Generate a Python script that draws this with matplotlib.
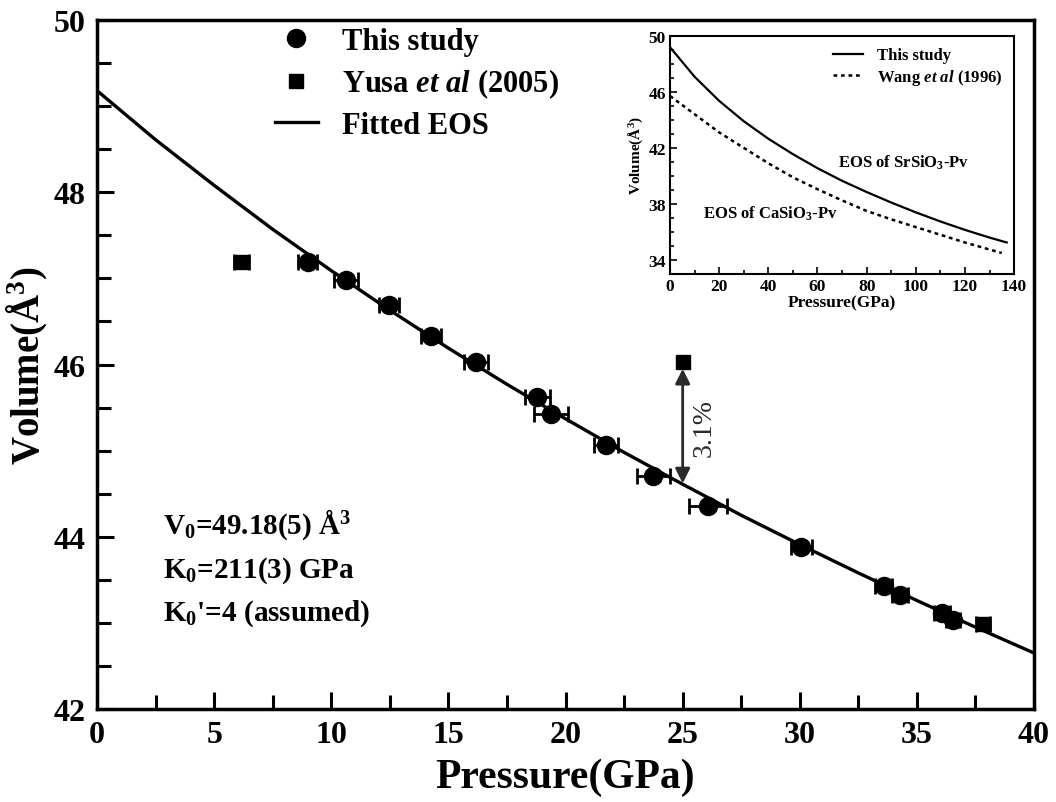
import matplotlib
matplotlib.use('Agg')
import matplotlib.pyplot as plt
from matplotlib.lines import Line2D
from matplotlib.ticker import MultipleLocator

plt.rcParams['font.family'] = 'Liberation Serif'
plt.rcParams['font.weight'] = 'bold'
plt.rcParams['axes.labelweight'] = 'bold'
plt.rcParams['mathtext.fontset'] = 'custom'
plt.rcParams['mathtext.rm'] = 'Liberation Serif:bold'
plt.rcParams['mathtext.it'] = 'Liberation Serif:italic:bold'
plt.rcParams['mathtext.bf'] = 'Liberation Serif:bold'

# this study (circles), x errors in GPa
p_this = [9.0, 10.63, 12.47, 14.26, 16.18, 18.79, 19.38, 21.73, 23.74, 26.09,
          30.06, 33.58, 34.29, 36.06, 36.55]
v_this = [47.19, 46.98, 46.69, 46.33, 46.03, 45.62, 45.43, 45.07, 44.71, 44.36,
          43.88, 43.43, 43.32, 43.12, 43.03]
perr_this = [0.4, 0.5, 0.43, 0.43, 0.5, 0.53, 0.72, 0.53, 0.7, 0.8,
             0.45, 0.37, 0.35, 0.35, 0.3]

# square points with error bars
p_sq = [6.15, 37.83]
v_sq = [47.19, 42.99]
perr_sq = [0.32, 0.3]

# Yusa et al (2005)
p_yusa = [25.0]
v_yusa = [46.03]

# fitted EOS curve
p_fit = [0, 2.5, 5, 7.5, 10, 12.5, 15, 17.5, 20, 22.5, 25, 27.5, 30, 32.5, 35, 37.5, 40]
v_fit = [49.18, 48.61, 48.08, 47.57, 47.09, 46.63, 46.19, 45.77, 45.37, 44.98,
         44.61, 44.25, 43.91, 43.58, 43.26, 42.95, 42.65]

# inset curves
p_sr = [0, 10, 20, 30, 40, 50, 60, 70, 80, 90, 100, 110, 120, 130, 137]
v_sr = [49.18, 47.07, 45.35, 43.9, 42.65, 41.55, 40.55, 39.65, 38.85, 38.1,
        37.4, 36.75, 36.15, 35.6, 35.25]
p_ca = [0, 10, 20, 30, 40, 50, 60, 70, 80, 90, 100, 110, 120, 130, 135]
v_ca = [45.7, 44.4, 43.1, 42.0, 40.9, 39.9, 39.05, 38.25, 37.5, 36.9,
        36.35, 35.8, 35.25, 34.75, 34.5]

fig = plt.figure(figsize=(10.56, 8.03), dpi=100)
ax = fig.add_axes([0.0919, 0.1158, 0.8873, 0.8580])

ax.plot(p_fit, v_fit, color='black', lw=2.4, zorder=2)
ax.errorbar(p_this, v_this, xerr=perr_this, fmt='o', color='black', ms=13,
            capsize=6, elinewidth=2, capthick=2, zorder=3)
ax.errorbar(p_sq, v_sq, xerr=perr_sq, fmt='s', color='black', ms=10,
            capsize=6, elinewidth=2, capthick=2, zorder=3)
ax.plot(p_yusa, v_yusa, 's', color='black', ms=10, zorder=3)

ax.annotate('', xy=(25.0, 45.95), xytext=(25.0, 44.62),
            arrowprops=dict(arrowstyle='<|-|>', color='#2a2a2a', lw=2,
                            mutation_scale=22, shrinkA=0, shrinkB=0))
ax.text(25.9, 45.28, '3.1%', rotation=90, ha='center', va='center',
        fontsize=20, fontweight='normal', color='#2a2a2a')

ax.text(2.8, 44.15, r'V$_0$=49.18(5) Å$^3$', fontsize=21, va='center')
ax.text(2.8, 43.62, r'K$_0$=211(3) GPa', fontsize=21, va='center')
ax.text(2.8, 43.12, r"K$_0$'=4 (assumed)", fontsize=21, va='center')

handles = [Line2D([], [], marker='o', ls='none', color='black', ms=13),
           Line2D([], [], marker='s', ls='none', color='black', ms=10),
           Line2D([], [], color='black', lw=2.4)]
labels = ['This study', r'Yusa $et\ al$ (2005)', 'Fitted EOS']
ax.legend(handles, labels, loc='upper left', bbox_to_anchor=(0.19, 0.99),
          frameon=False, fontsize=22, handlelength=1.4, handletextpad=0.8,
          labelspacing=0.35, borderpad=0, borderaxespad=0)

ax.set_xlim(0, 40)
ax.set_ylim(42, 50)
ax.xaxis.set_major_locator(MultipleLocator(5))
ax.xaxis.set_minor_locator(MultipleLocator(2.5))
ax.yaxis.set_major_locator(MultipleLocator(2))
ax.yaxis.set_minor_locator(MultipleLocator(0.5))
ax.tick_params(which='both', direction='in', width=2.2, labelsize=23, pad=8)
ax.tick_params(which='major', length=12)
ax.tick_params(which='minor', length=10)
for s in ax.spines.values():
    s.set_linewidth(2.5)
ax.set_xlabel('Pressure(GPa)', fontsize=30, labelpad=6)
ax.set_ylabel('Volume(Å$^3$)', fontsize=28)
ax.yaxis.set_label_coords(-0.05, 0.5)

# inset
ins = fig.add_axes([0.6345, 0.6575, 0.3258, 0.2968])
ins.plot(p_sr, v_sr, color='black', lw=1.6, label='This study')
ins.plot(p_ca, v_ca, color='black', lw=1.8, ls=(0, (1.5, 1.5)),
         label=r'Wang $et\ al$ (1996)')
ins.text(68.5, 40.98, r'EOS of SrSiO$_3$-Pv', fontsize=12, va='center')
ins.text(13.5, 37.4, r'EOS of CaSiO$_3$-Pv', fontsize=12, va='center')
ins.legend(loc='upper right', frameon=False, fontsize=12, handlelength=1.8,
           handletextpad=0.8, labelspacing=0.2, borderaxespad=0.3)
ins.set_xlim(0, 140)
ins.set_ylim(33, 50)
ins.xaxis.set_major_locator(MultipleLocator(20))
ins.xaxis.set_minor_locator(MultipleLocator(10))
ins.yaxis.set_minor_locator(MultipleLocator(1))
ins.set_yticks([34, 38, 42, 46, 50])
ins.tick_params(which='both', direction='in', width=1.2, labelsize=12.5, pad=3)
ins.tick_params(which='major', length=5)
ins.tick_params(which='minor', length=3)
for s in ins.spines.values():
    s.set_linewidth(1.5)
ins.set_xlabel('Pressure(GPa)', fontsize=12.5, labelpad=0)
ins.set_ylabel('Volume(Å$^3$)', fontsize=11, labelpad=2)

fig.savefig('out.png', dpi=100)
